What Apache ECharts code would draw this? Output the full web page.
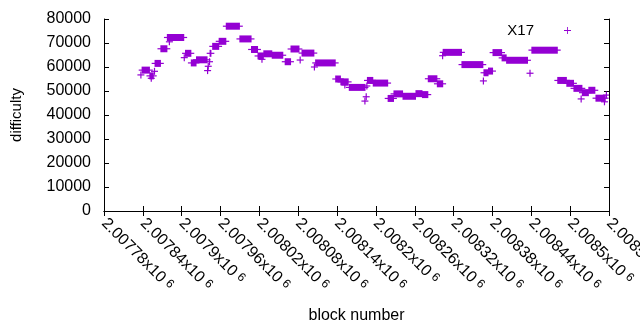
<!DOCTYPE html>
<html>
<head>
<meta charset="utf-8">
<script src="https://cdn.jsdelivr.net/npm/echarts@6/dist/echarts.min.js"></script>
<style>
  html, body { margin: 0; padding: 0; background: #fff; }
  #main { width: 640px; height: 330px; }
</style>
</head>
<body>
<div id="main"></div>
<script>
  // runs of blocks sharing one difficulty value (single points have start == end)
  const blockStart = [
    2007837, 2007839, 2007851, 2007853, 2007858, 2007859, 2007868, 2007878, 2007881, 2007904,
    2007906, 2007915, 2007923, 2007940, 2007941, 2007943, 2007944, 2007948, 2007958, 2007969,
    2007990, 2008008, 2008018, 2008024, 2008027, 2008040, 2008060, 2008069, 2008083, 2008086,
    2008105, 2008107, 2008138, 2008146, 2008152, 2008159, 2008183, 2008185, 2008186, 2008187,
    2008196, 2008219, 2008228, 2008242, 2008262, 2008272, 2008281, 2008295, 2008303, 2008304,
    2008333, 2008366, 2008367, 2008374, 2008381, 2008395, 2008402, 2008438, 2008441, 2008481,
    2008495, 2008506, 2008517, 2008519, 2008529, 2008540, 2008553, 2008556,
  ]
  const blockEnd = [
    2007837, 2007850, 2007856, 2007853, 2007858, 2007867, 2007877, 2007903, 2007881, 2007904,
    2007914, 2007922, 2007939, 2007940, 2007941, 2007943, 2007945, 2007957, 2007968, 2007989,
    2008007, 2008017, 2008026, 2008024, 2008039, 2008056, 2008068, 2008081, 2008083, 2008104,
    2008105, 2008137, 2008145, 2008157, 2008152, 2008183, 2008183, 2008185, 2008186, 2008195,
    2008218, 2008227, 2008241, 2008261, 2008271, 2008280, 2008294, 2008303, 2008303, 2008332,
    2008365, 2008366, 2008373, 2008380, 2008394, 2008401, 2008434, 2008438, 2008480, 2008494,
    2008505, 2008518, 2008517, 2008528, 2008538, 2008554, 2008553, 2008556,
  ]
  const difficulty = [
    56700, 58700, 56300, 55300, 58200, 61500, 67600, 72300, 70500, 63900,
    65700, 61700, 63000, 58500, 60300, 62200, 65700, 68600, 70700, 77000,
    71700, 67300, 64600, 63200, 65500, 64900, 62200, 67500, 62900, 65800,
    60000, 61700, 55000, 53800, 52500, 51500, 45800, 47600, 52100, 54400,
    53300, 46900, 48800, 47800, 48900, 48500, 55100, 53000, 64700, 66100,
    61000, 54200, 57600, 58300, 66000, 63800, 62800, 57400, 67000, 54400,
    53200, 51100, 46700, 49300, 50300, 47000, 45500, 48300,
  ]
  const xMin = 2007780
  const xMax = 2008560
  const xStep = 60
  const yMin = 0
  const yMax = 80000
  const yStep = 10000
  const seriesName = 'X17'

  const color = '#9400d3'
  const font = 'Liberation Sans'

  const runs = blockStart.map((s, i) => [s, blockEnd[i], difficulty[i]])

  // a run of '+' marks drawn as one bar with the arms sticking out
  function renderRun(params, api) {
    const a = api.coord([api.value(0), api.value(2)])
    const b = api.coord([api.value(1), api.value(2)])
    return {
      type: 'group',
      children: [
        {
          type: 'rect',
          shape: { x: a[0] - 0.6, y: a[1] - 3.5, width: b[0] - a[0] + 1.2, height: 7 },
          style: { fill: color },
        },
        {
          type: 'line',
          shape: { x1: a[0] - 3.5, y1: a[1], x2: b[0] + 3.5, y2: b[1] },
          style: { stroke: color, lineWidth: 1.2 },
        },
      ],
    }
  }

  function xLabel(v) {
    const s = (v / 1e6).toFixed(5).replace(/0+$/, '')
    return '{m|' + s + 'x10}{e|6}'
  }

  const axisLine = { show: true, lineStyle: { color: '#000', width: 1 } }
  const axisTick = { show: true, inside: true, length: 5, lineStyle: { color: '#000' } }

  const chart = echarts.init(document.getElementById('main'))
  chart.setOption({
    animation: false,
    backgroundColor: '#fff',
    grid: { left: 104, right: 31, top: 19, bottom: 119, outerBoundsMode: 'none', containLabel: false },
    legend: {
      right: 69,
      top: 23,
      padding: 0,
      align: 'right',
      itemWidth: 7,
      itemHeight: 7,
      formatter: (name) => '{t|' + name + '}{g|}',
      textStyle: {
        fontFamily: font,
        fontSize: 15,
        color: '#000',
        rich: {
          t: { fontFamily: font, fontSize: 15, color: '#000' },
          g: { width: 25 },
        },
      },
      data: [{ name: seriesName, icon: 'path://M4.4,0H5.6V4.4H10V5.6H5.6V10H4.4V5.6H0V4.4H4.4Z' }],
    },
    xAxis: [
      {
        type: 'value',
        min: xMin,
        max: xMax,
        interval: xStep,
        name: 'block number',
        nameLocation: 'middle',
        nameGap: 97,
        nameTextStyle: { fontFamily: font, fontSize: 16, color: '#000' },
        axisLine: axisLine,
        axisTick: axisTick,
        splitLine: { show: false },
        axisLabel: {
          rotate: -45,
          margin: 10,
          color: '#000',
          hideOverlap: false,
          formatter: xLabel,
          rich: {
            m: { fontFamily: font, fontSize: 16, color: '#000' },
            e: { fontFamily: font, fontSize: 12, color: '#000', verticalAlign: 'top', padding: [0, 0, 0, 4] },
          },
        },
      },
      {
        type: 'value',
        position: 'top',
        min: xMin,
        max: xMax,
        interval: xStep,
        axisLine: axisLine,
        axisTick: axisTick,
        axisLabel: { show: false },
        splitLine: { show: false },
      },
    ],
    yAxis: [
      {
        type: 'value',
        min: yMin,
        max: yMax,
        interval: yStep,
        name: 'difficulty',
        nameLocation: 'middle',
        nameGap: 80,
        nameRotate: 90,
        nameTextStyle: { fontFamily: font, fontSize: 15, color: '#000' },
        axisLine: axisLine,
        axisTick: axisTick,
        splitLine: { show: false },
        axisLabel: { margin: 13, fontFamily: font, fontSize: 16, color: '#000', formatter: (v) => String(v) },
      },
      {
        type: 'value',
        position: 'right',
        min: yMin,
        max: yMax,
        interval: yStep,
        axisLine: axisLine,
        axisTick: axisTick,
        axisLabel: { show: false },
        splitLine: { show: false },
      },
    ],
    series: [
      {
        name: seriesName,
        type: 'custom',
        xAxisIndex: 0,
        yAxisIndex: 0,
        itemStyle: { color: color },
        encode: { x: [0, 1], y: 2 },
        renderItem: renderRun,
        data: runs,
        clip: true,
      },
    ],
  })
</script>
</body>
</html>
